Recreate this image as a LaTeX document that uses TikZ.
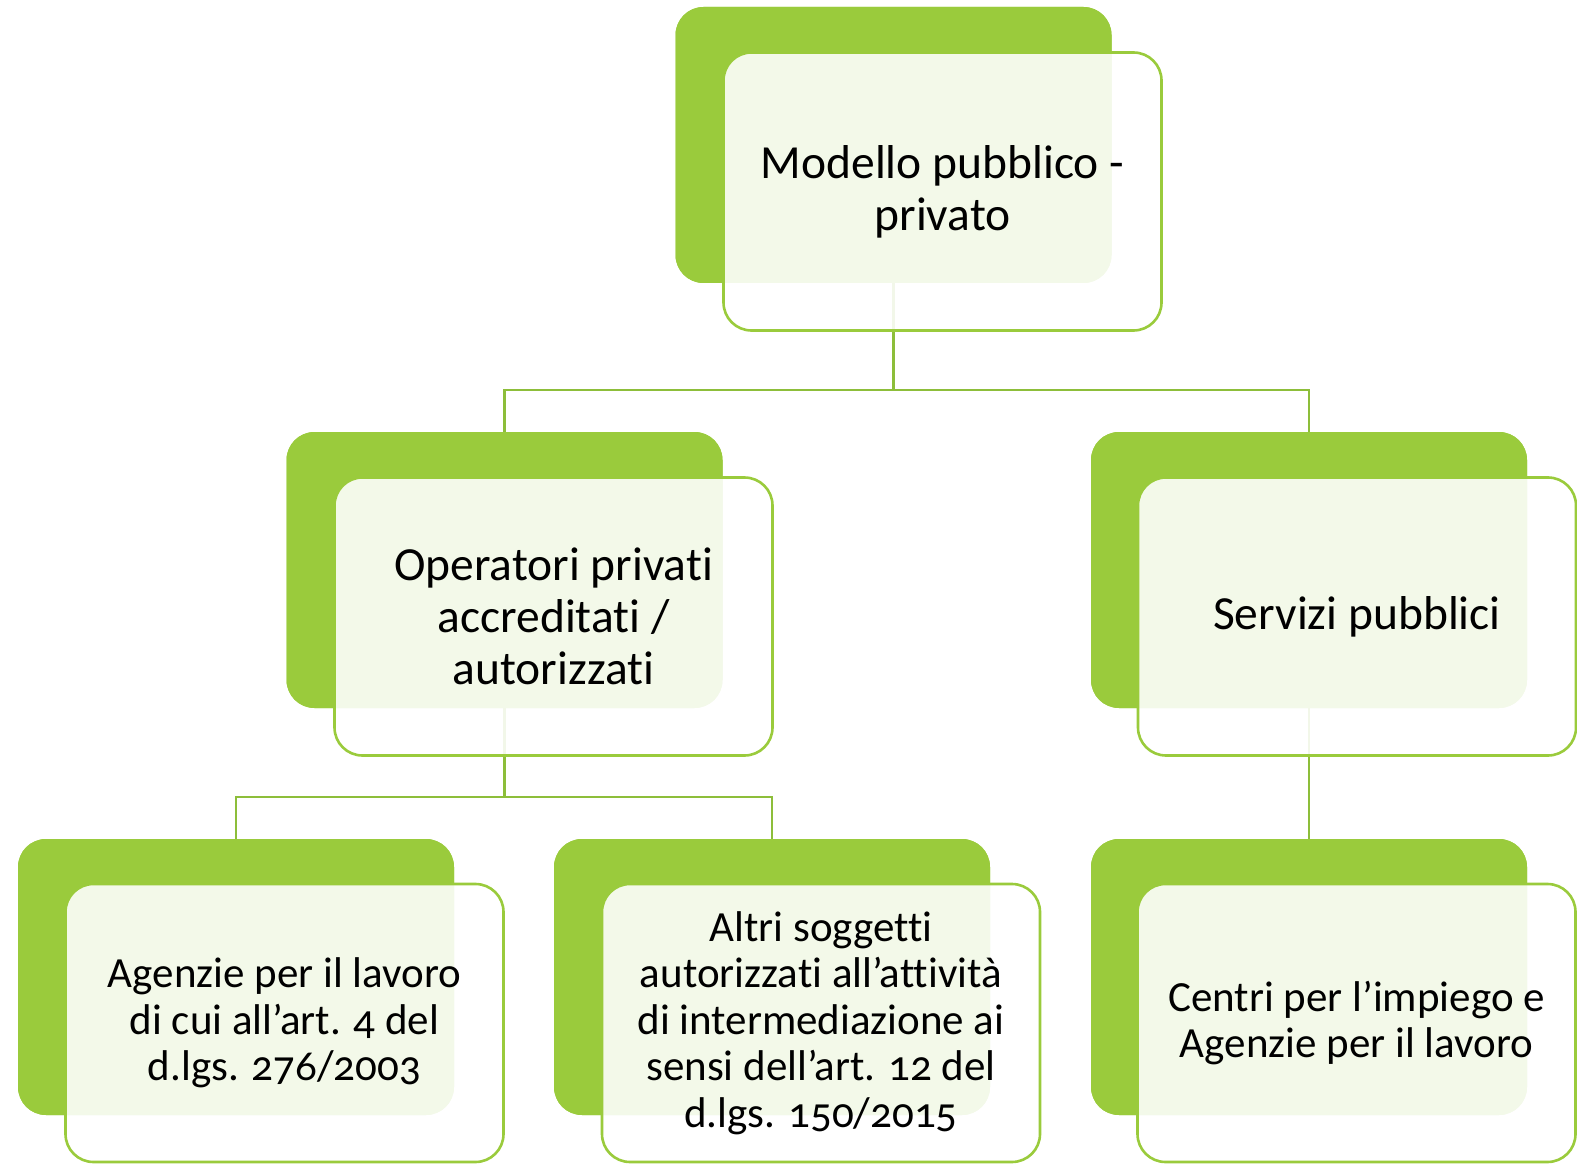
\documentclass[tikz,border=0pt]{standalone}
\usepackage{fontspec}
\setmainfont{Carlito}[Numbers=OldStyle, Ligatures=NoCommon]
\definecolor{gback}{HTML}{9ACB3C}
\definecolor{gline}{HTML}{8DBE3A}
\tikzset{
  backbox/.style={rectangle, rounded corners=28pt, fill=gback, minimum width=436pt, minimum height=276pt, inner sep=0pt},
  frontbox/.style={rectangle, rounded corners=28pt, draw=gback, line width=2.6pt, fill=white, fill opacity=0.89, text opacity=1, minimum width=438pt, minimum height=278pt, inner sep=0pt, align=center, text=black},
  bigtext/.style={font=\fontsize{47.5}{52}\selectfont},
  smalltext/.style={font=\fontsize{43}{46.5}\selectfont},
  conn/.style={draw=gline, line width=2.4pt}
}
\begin{document}
\begin{tikzpicture}[x=1pt,y=-1pt]
\useasboundingbox (0,0) rectangle (1577,1166);
% back boxes
\node[backbox] (b1) at (893.5,145) {};
\node[backbox] (b2) at (504.5,570) {};
\node[backbox] (b3) at (1309,570) {};
\node[backbox] (b4) at (236,977) {};
\node[backbox] (b5) at (772,977) {};
\node[backbox] (b6) at (1309,977) {};
\coordinate (bus1) at (0,390);
\coordinate (bus2) at (0,797);
% connectors (under boxes)
\draw[conn] (b1.center) -- (b1.center |- bus1) -| (b2.north);
\draw[conn] (b1.center |- bus1) -| (b3.north);
\draw[conn] (b2.center) -- (b2.center |- bus2) -| (b4.north);
\draw[conn] (b2.center |- bus2) -| (b5.north);
\draw[conn] (b3.center) -- (b6.north);
% redraw back boxes over connectors
\node[backbox] at (b1.center) {};
\node[backbox] at (b2.center) {};
\node[backbox] at (b3.center) {};
\node[backbox] at (b4.center) {};
\node[backbox] at (b5.center) {};
\node[backbox] at (b6.center) {};
% front boxes with text
\node[frontbox, bigtext] (f1) at (942.5,191.5) {Modello pubblico -\\privato};
\node[frontbox, bigtext] (f2) at (553.5,616.5) {Operatori privati\\accreditati /\\autorizzati};
\node[frontbox, bigtext] (f3) at (1357,616.5) {Servizi pubblici};
\node[frontbox, smalltext] (f4) at (284.5,1023) {Agenzie per il lavoro\\di cui all’art. 4 del\\d.lgs. 276/2003};
\node[frontbox, smalltext] (f5) at (821,1023) {Altri soggetti\\autorizzati all’attività\\di intermediazione ai\\sensi dell’art. 12 del\\d.lgs. 150/2015};
\node[frontbox, smalltext] (f6) at (1356.5,1023) {Centri per l’impiego e\\Agenzie per il lavoro};
\end{tikzpicture}
\end{document}
